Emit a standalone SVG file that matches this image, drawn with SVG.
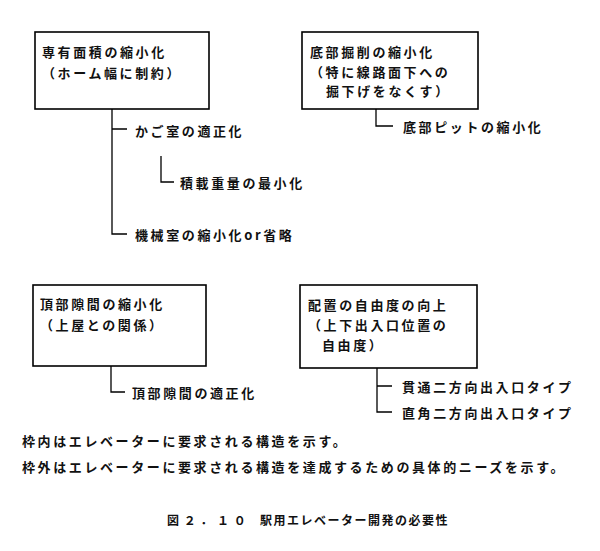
<svg xmlns="http://www.w3.org/2000/svg" width="600" height="551" viewBox="0 0 600 551">
<style>
.box{fill:none;stroke:#000;stroke-width:1.6}
.ln{fill:none;stroke:#000;stroke-width:1.3}
text{font-family:"Noto Sans CJK JP","Noto Sans CJK SC",sans-serif;font-size:13px;font-weight:bold;letter-spacing:2.6px;fill:#111;dominant-baseline:central}
.note{letter-spacing:2.6px}
.cap{font-size:12px;letter-spacing:1.5px}
</style>
<rect width="600" height="551" fill="#fff"/>
<g id="node-senyu">
<rect class="box" x="35" y="32" width="174" height="77"/>
<text x="42" y="51">専有面積の縮小化</text>
<text x="42" y="72">（ホーム幅に制約）</text>
</g>
<g id="node-kago"><text x="135" y="130">かご室の適正化</text></g>
<g id="node-sekisai"><text x="180" y="182">積載重量の最小化</text></g>
<g id="node-kikai"><text x="135" y="234">機械室の縮小化or省略</text></g>
<g id="node-teibu">
<rect class="box" x="302" y="32" width="176" height="77"/>
<text x="310" y="51">底部掘削の縮小化</text>
<text x="310" y="71">（特に線路面下への</text>
<text x="326" y="90">掘下げをなくす）</text>
</g>
<g id="node-pit"><text x="403" y="126">底部ピットの縮小化</text></g>
<g id="node-choubu">
<rect class="box" x="33" y="285" width="173" height="81"/>
<text x="40" y="303">頂部隙間の縮小化</text>
<text x="40" y="324">（上屋との関係）</text>
</g>
<g id="node-choubu2"><text x="132" y="392">頂部隙間の適正化</text></g>
<g id="node-haichi">
<rect class="box" x="300" y="285" width="177" height="83"/>
<text x="308" y="304">配置の自由度の向上</text>
<text x="308" y="324">（上下出入口位置の</text>
<text x="322" y="344">自由度）</text>
</g>
<g id="node-kantsu"><text x="402" y="386">貫通二方向出入口タイプ</text></g>
<g id="node-chokkaku"><text x="402" y="412">直角二方向出入口タイプ</text></g>
<g id="connectors">
<path class="ln" d="M112 109V234H127M112 129H127"/>
<path class="ln" d="M161 156V182H174"/>
<path class="ln" d="M376 109V126H393"/>
<path class="ln" d="M111 366V392H125"/>
<path class="ln" d="M377 368V412H392M377 386H392"/>
</g>
<g id="notes">
<text class="note" x="22" y="440">枠内はエレベーターに要求される構造を示す。</text>
<text class="note" x="22" y="466">枠外はエレベーターに要求される構造を達成するための具体的ニーズを示す。</text>
<text class="cap" y="519"><tspan x="167" style="letter-spacing:4.7px">図２．１０</tspan><tspan x="260">駅用エレベーター開発の必要性</tspan></text>
</g>
</svg>
